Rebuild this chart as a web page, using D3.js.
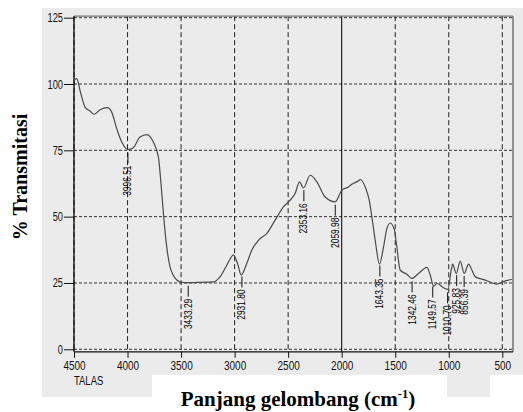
<!DOCTYPE html>
<html><head><meta charset="utf-8">
<script src="https://cdn.jsdelivr.net/npm/d3@7"></script>
<style>body{margin:0;background:#fff}svg{display:block}</style>
</head><body>
<svg id="c" width="523" height="412"></svg>
<script>
const wavenumbers = [4500,4475,4440,4397,4350,4313,4257,4189,4148,4101,4054,3997,3946,3883,3821,3759,3712,3690,3665,3634,3603,3540,3493,3433,3350,3260,3198,3136,3073,3011,2970,2939,2886,2839,2777,2699,2621,2544,2497,2435,2394,2357,2294,2232,2154,2061,1998,1937,1905,1843,1827,1780,1743,1718,1687,1647,1609,1578,1547,1507,1485,1453,1391,1344,1282,1204,1173,1142,1110,1048,1008,977,964,930,893,855,815,783,752,659,550,472,410];
const transmittance = [101.2,102.0,97,91.3,89.8,88.6,90.3,91.1,89.4,83.2,78.1,75.3,76.0,80.0,80.9,78.1,72.5,63.7,51.2,38.6,31.1,26.1,25.2,25.1,25.2,25.3,25.4,27.3,31.7,35.5,32,28,32.4,37.4,41.1,43.7,48.7,53.7,55.6,58.7,63.1,60.8,65.6,63.1,57.4,55.6,60,61.2,62.2,63.5,64,61.2,56.2,49.9,41.1,32.1,38.6,45.5,47.6,44.9,38.6,29.8,28.3,26.7,28.6,30.9,28,23.8,24.8,23.2,22.6,29.8,32.1,28.6,33.2,28.6,32.1,29.8,27.3,26.1,24.6,25.8,26.3];
const peakWavenumbers = [3996.51,3433.29,2931.80,2353.16,2059.98,1643.35,1342.46,1149.57,1010.70,925.83,856.39];
const peakLabels = ["3996.51","3433.29","2931.80","2353.16","2059.98","1643.35","1342.46","1149.57","1010.70","925.83","856.39"];
const xTicks = [4500,4000,3500,3000,2500,2000,1500,1000,500];
const yTicks = [0,25,50,75,100,125];
const sampleName = "TALAS";
const xTitle = "Panjang gelombang (cm";
const yTitle = "% Transmitasi";

const svg = d3.select("#c");
const x = d3.scaleLinear().domain([4500,400]).range([74,513]);
const y = d3.scaleLinear().domain([0,100]).range([349.3,84]);
const sans = "'Liberation Sans',Arial,sans-serif";
const gray = "#ebebeb";
function condense(sel, ratio){
  sel.each(function(){
    const len = this.getComputedTextLength();
    d3.select(this).attr("textLength", len*ratio).attr("lengthAdjust","spacingAndGlyphs");
  });
}

// background scan patches
svg.append("rect").attr("x",42).attr("y",8).attr("width",481).attr("height",367).attr("fill",gray);
svg.append("rect").attr("x",42).attr("y",370).attr("width",110).attr("height",27).attr("fill",gray);
svg.append("rect").attr("x",447).attr("y",370).attr("width",43).attr("height",27).attr("fill",gray);

const yTop = y(125)-1.5, yBottom = y(0)+2.5;

// horizontal dotted grid
svg.append("g").selectAll("line").data(yTicks).join("line")
  .attr("x1",x(4500)).attr("x2",x(400)).attr("y1",d=>y(d)).attr("y2",d=>y(d))
  .attr("stroke","#333").attr("stroke-width",1).attr("stroke-dasharray","3,2");
// vertical dashed grid
svg.append("g").selectAll("line").data(xTicks.filter(d=>d!==2000)).join("line")
  .attr("x1",d=>x(d)).attr("x2",d=>x(d)).attr("y1",yTop).attr("y2",y(0))
  .attr("stroke","#222").attr("stroke-width",1).attr("stroke-dasharray","5,3");
// solid line at 2000
svg.append("line").attr("x1",x(2000)).attr("x2",x(2000)).attr("y1",yTop).attr("y2",yBottom)
  .attr("stroke","#111").attr("stroke-width",1.1);

// frame
svg.append("line").attr("x1",x(4500)).attr("x2",x(400)).attr("y1",yTop).attr("y2",yTop).attr("stroke","#777").attr("stroke-width",1.2);
svg.append("line").attr("x1",x(400)).attr("x2",x(400)).attr("y1",yTop).attr("y2",yBottom).attr("stroke","#444").attr("stroke-width",1.1);
svg.append("line").attr("x1",x(4500)).attr("x2",x(400)).attr("y1",yBottom).attr("y2",yBottom).attr("stroke","#111").attr("stroke-width",1.2);
svg.append("line").attr("x1",x(4500)).attr("x2",x(4500)).attr("y1",yTop).attr("y2",yBottom).attr("stroke","#111").attr("stroke-width",1.4);

// axes ticks & labels
const yAxis = d3.axisLeft(y).tickValues(yTicks).tickSize(10).tickPadding(1).tickFormat(d3.format("d"));
const gy = svg.append("g").attr("transform",`translate(${x(4500)},0)`).call(yAxis);
gy.select(".domain").remove();
gy.selectAll("line").attr("stroke","#111");
gy.selectAll("text").attr("font-family",sans).attr("font-size",12.5).attr("fill","#111").call(condense,0.74);

const xAxis = d3.axisBottom(x).tickValues(xTicks).tickSize(6).tickPadding(3).tickFormat(d3.format("d"));
const gx = svg.append("g").attr("transform",`translate(0,${yBottom})`).call(xAxis);
gx.select(".domain").remove();
gx.selectAll("line").attr("stroke","#111");
gx.selectAll("text").attr("font-family",sans).attr("font-size",13.5).attr("fill","#111").call(condense,0.74);

svg.append("text").attr("x",x(4500)).attr("y",385).attr("font-family",sans).attr("font-size",13.5).attr("fill","#111").text(sampleName).call(condense,0.7);

// spectrum
const pts = wavenumbers.map((w,i)=>[w,transmittance[i]]);
const line = d3.line().x(d=>x(d[0])).y(d=>y(d[1])).curve(d3.curveMonotoneX);
svg.append("path").datum(pts).attr("d",line).attr("fill","none").attr("stroke","#4a4a4a").attr("stroke-width",1.2);

// peak labels
const interp = w => {
  for (let i=0;i<wavenumbers.length-1;i++){
    const a=wavenumbers[i], b=wavenumbers[i+1];
    if (w<=a && w>=b){ const t=(a-w)/(a-b); return transmittance[i]+(transmittance[i+1]-transmittance[i])*t; }
  }
  return transmittance[transmittance.length-1];
};
const pk = svg.append("g").selectAll("g").data(peakWavenumbers).join("g");
pk.append("line").attr("x1",d=>x(d)).attr("x2",d=>x(d))
  .attr("y1",d=>y(interp(d))+3).attr("y2",d=>y(interp(d))+14)
  .attr("stroke","#111").attr("stroke-width",1);
pk.append("text").attr("transform",d=>`translate(${x(d)},${y(interp(d))+16}) rotate(-90)`)
  .attr("text-anchor","end").attr("dy","0.35em")
  .attr("font-family",sans).attr("font-size",10).attr("fill","#000")
  .text((d,i)=>peakLabels[i]).call(condense,0.84);

// titles
const xt = svg.append("text").attr("x",298).attr("y",406).attr("text-anchor","middle")
  .attr("font-family","'Liberation Serif','Times New Roman',serif").attr("font-weight","bold").attr("font-size",21).attr("fill","#000");
xt.append("tspan").text(xTitle);
xt.append("tspan").attr("font-size",12.5).attr("dy",-8).text("-1");
xt.append("tspan").attr("dy",8).text(")");

svg.append("text").attr("transform","translate(27,177) rotate(-90)").attr("text-anchor","middle")
  .attr("font-family","'Liberation Serif','Times New Roman',serif").attr("font-weight","bold").attr("font-size",20).attr("fill","#000")
  .text(yTitle);
</script>
</body></html>
